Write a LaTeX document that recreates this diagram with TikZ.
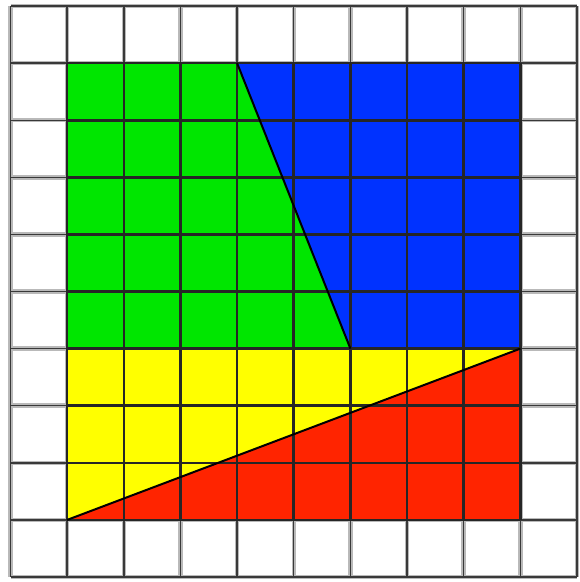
\documentclass[tikz,border=0pt]{standalone}
\definecolor{cgreen}{RGB}{0,230,0}
\definecolor{cblue}{RGB}{0,50,255}
\definecolor{cyellow}{RGB}{255,255,0}
\definecolor{cred}{RGB}{255,36,0}
\tikzset{
  outergrid/.style={draw=gray!55, line width=4.5pt},
  outercore/.style={draw=gray!45!black, line width=1.4pt},
  innergrid/.style={draw=black!85, line width=2.6pt},
  cut/.style={draw=black, line width=2pt},
}
\begin{document}
\begin{tikzpicture}[x=1pt,y=-1pt]
\useasboundingbox (0,0) rectangle (580,582);
\fill[white] (0,0) rectangle (580,582);
\begin{scope}[shift={(10.5,6)}, x=56.65pt, y=-57.1pt]
  \foreach \i in {0,...,10} {
    \path[outergrid] (\i,0) -- (\i,10);
    \path[outergrid] (0,\i) -- (10,\i);
  }
  \foreach \i in {0,...,10} {
    \path[outercore] (\i,0) -- (\i,10);
    \path[outercore] (0,\i) -- (10,\i);
  }
  \fill[cgreen] (1,1) -- (4,1) -- (6,6) -- (1,6) -- cycle;
  \fill[cblue] (4,1) -- (9,1) -- (9,6) -- (6,6) -- cycle;
  \fill[cyellow] (1,6) -- (9,6) -- (1,9) -- cycle;
  \fill[cred] (1,9) -- (9,6) -- (9,9) -- cycle;
  \foreach \i in {1,...,9} {
    \path[innergrid] (\i,1) -- (\i,9);
    \path[innergrid] (1,\i) -- (9,\i);
  }
  \path[cut] (4,1) -- (6,6);
  \path[cut] (1,9) -- (9,6);
\end{scope}
\end{tikzpicture}
\end{document}
